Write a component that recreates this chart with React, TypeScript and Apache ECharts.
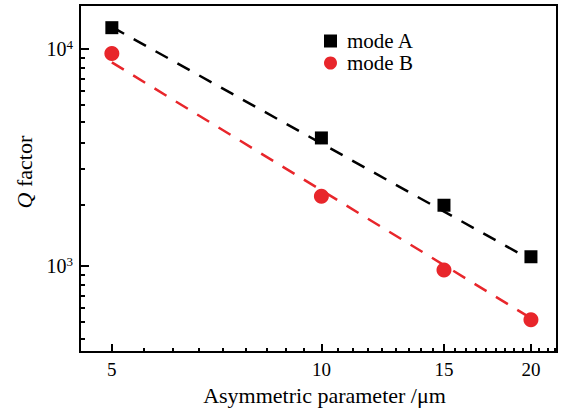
import React, { useEffect, useRef } from 'react';
import * as echarts from 'echarts';

const xValues = [5, 10, 15, 20];
const modeA = [12500, 3880, 1900, 1100];
const modeB = [9500, 2090, 955, 564];
const fitX = [5, 20];
const fitA = [12600, 1064];
const fitB = [8650, 573];

const xMajorTicks = [5, 10, 15, 20];
const xTickLabels = ['5', '10', '15', '20'];
const xMinorTicks = [
  5.556, 6.111, 6.667, 7.222, 7.778, 8.333, 8.889, 9.444,
  10.556, 11.111, 11.667, 12.222, 12.778, 13.333, 13.889, 14.444,
  15.556, 16.111, 16.667, 17.222, 17.778, 18.333, 18.889, 19.444,
  20.556, 21.111, 21.667,
];
const yMajorTicks = [1000, 10000];
const yTickExponents = ['3', '4'];
const yMinorTicks = [460, 550, 640, 730, 820, 910, 1900, 2800, 3700, 4600, 5500, 6400, 7300, 8200, 9100];

const FONT = 'Liberation Serif, Times New Roman, serif';
const RED = '#e8262b';

export default function App() {
  const ref = useRef<HTMLDivElement>(null);
  useEffect(() => {
    if (!ref.current) return;
    const chart = echarts.init(ref.current, undefined, { renderer: 'svg' });
    const xRange = { min: 4.5, max: 21.8 };
    const yRange = { min: 400, max: 15900 };
    const option: any = {
      animation: false,
      backgroundColor: '#fff',
      textStyle: { fontFamily: FONT, color: '#000' },
      grid: {
        left: 80, right: 4, top: 5, bottom: 56,
        show: true, borderColor: '#000', borderWidth: 2, backgroundColor: 'transparent',
      },
      legend: {
        data: ['mode A', 'mode B'],
        orient: 'vertical',
        left: 319, top: 25,
        itemWidth: 13, itemHeight: 13, itemGap: 0,
        textStyle: { fontFamily: FONT, fontSize: 21, color: '#000', lineHeight: 22, padding: [0, 0, 0, 5] },
      },
      xAxis: [
        {
          type: 'log', logBase: 10, position: 'bottom', ...xRange,
          axisLine: { show: true, lineStyle: { color: '#000', width: 2 } },
          axisTick: { show: true, inside: true, length: 8, lineStyle: { color: '#000', width: 2 }, customValues: xMajorTicks },
          axisLabel: {
            show: true, margin: 8, fontFamily: FONT, fontSize: 19, color: '#000',
            customValues: xMajorTicks,
            formatter: (v: number) => {
              const i = xMajorTicks.findIndex((t) => Math.abs(t - v) < 1e-6 * t);
              return i >= 0 ? xTickLabels[i] : '';
            },
          },
          splitLine: { show: false },
          minorTick: { show: false },
          name: 'Asymmetric parameter /\u03bcm',
          nameLocation: 'middle', nameGap: 30,
          nameTextStyle: { fontFamily: FONT, fontSize: 22, color: '#000', padding: [0, 0, 0, 12] },
        },
        {
          type: 'log', logBase: 10, position: 'bottom', ...xRange,
          axisLine: { show: false },
          axisTick: { show: true, inside: true, length: 4, lineStyle: { color: '#000', width: 2 }, customValues: xMinorTicks },
          axisLabel: { show: false },
          splitLine: { show: false },
        },
      ],
      yAxis: [
        {
          type: 'log', logBase: 10, position: 'left', ...yRange,
          axisLine: { show: true, lineStyle: { color: '#000', width: 2 } },
          axisTick: { show: true, inside: true, length: 9, lineStyle: { color: '#000', width: 2 }, customValues: yMajorTicks },
          axisLabel: {
            show: true, margin: 7, color: '#000',
            customValues: yMajorTicks,
            formatter: (v: number) => {
              const i = yMajorTicks.findIndex((t) => Math.abs(t - v) < 1e-6 * t);
              return i >= 0 ? `{b|10}{s|${yTickExponents[i]}}` : '';
            },
            rich: {
              b: { fontFamily: FONT, fontSize: 20, lineHeight: 22, color: '#000' },
              s: { fontFamily: FONT, fontSize: 13, lineHeight: 13, verticalAlign: 'top', color: '#000' },
            },
          },
          splitLine: { show: false },
          minorTick: { show: false },
          name: '{i|Q} factor',
          nameLocation: 'middle', nameGap: 44,
          nameTextStyle: {
            fontFamily: FONT, fontSize: 22, color: '#000', padding: [0, 0, 0, 13],
            rich: { i: { fontFamily: FONT, fontSize: 22, fontStyle: 'italic', color: '#000' } },
          },
        },
        {
          type: 'log', logBase: 10, position: 'left', ...yRange,
          axisLine: { show: false },
          axisTick: { show: true, inside: true, length: 5, lineStyle: { color: '#000', width: 2 }, customValues: yMinorTicks },
          axisLabel: { show: false },
          splitLine: { show: false },
        },
      ],
      series: [
        {
          name: 'fit A', type: 'line', xAxisIndex: 0, yAxisIndex: 0,
          data: fitX.map((x, i) => [x, fitA[i]]),
          symbol: 'none', lineStyle: { color: '#000', width: 2.5, type: [14, 11] }, silent: true, z: 1,
        },
        {
          name: 'fit B', type: 'line', xAxisIndex: 0, yAxisIndex: 0,
          data: fitX.map((x, i) => [x, fitB[i]]),
          symbol: 'none', lineStyle: { color: RED, width: 2.5, type: [14, 11] }, silent: true, z: 1,
        },
        {
          name: 'mode A', type: 'scatter', xAxisIndex: 0, yAxisIndex: 0,
          data: xValues.map((x, i) => [x, modeA[i]]),
          symbol: 'rect', symbolSize: 13, itemStyle: { color: '#000', opacity: 1 }, z: 3,
        },
        {
          name: 'mode B', type: 'scatter', xAxisIndex: 0, yAxisIndex: 0,
          data: xValues.map((x, i) => [x, modeB[i]]),
          symbol: 'circle', symbolSize: 15, itemStyle: { color: RED, opacity: 1 }, z: 3,
        },
      ],
    };
    chart.setOption(option);
    return () => chart.dispose();
  }, []);
  return (
    <div
      ref={ref}
      style={{ position: 'fixed', left: 0, top: 0, width: 561, height: 411, background: '#fff' }}
    />
  );
}
